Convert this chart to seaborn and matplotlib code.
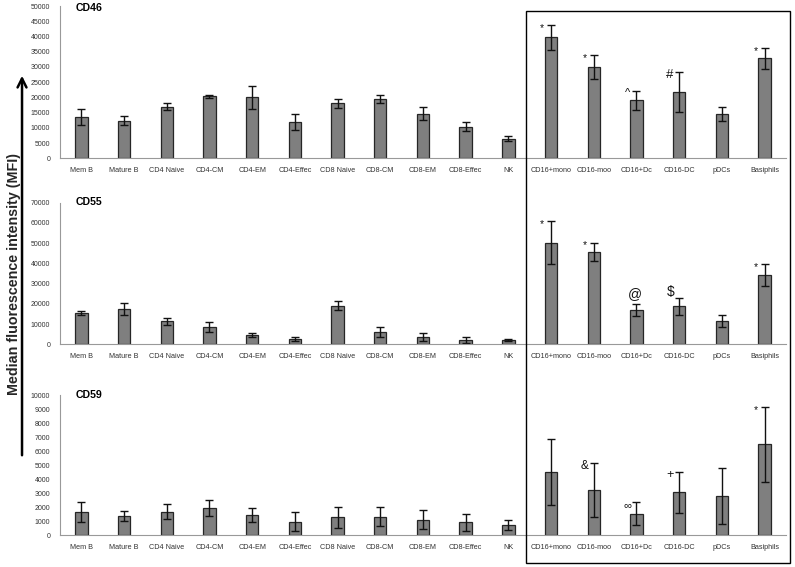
from matplotlib import pyplot as plt
from matplotlib.patches import FancyArrowPatch, Rectangle
from matplotlib.ticker import MultipleLocator
from pandas import DataFrame
import seaborn as sns


cells = [
        "Mem B", "Mature B", "CD4 Naive", "CD4-CM", "CD4-EM", "CD4-Effec",
        "CD8 Naive", "CD8-CM", "CD8-EM", "CD8-Effec", "NK",
        "CD16+mono", "CD16-moo", "CD16+Dc", "CD16-DC", "pDCs", "Basiphils",
        ]

cd46_mfi = [13600, 12300, 17000, 20300, 20000, 11800, 18000, 19500, 14700, 10400, 6500,
            39700, 30000, 19100, 21800, 14400, 32800]
cd46_err = [2700, 1450, 1300, 600, 3900, 2600, 1400, 1300, 2100, 1500, 800,
            4000, 3850, 3100, 6500, 2300, 3400]
cd46_marks = [""] * 11 + ["*", "*", "^", "#", "", "*"]

cd55_mfi = [15300, 17300, 11400, 8600, 4600, 2500, 19100, 5900, 3500, 2100, 2000,
            50200, 45600, 16800, 18800, 11500, 34300]
cd55_err = [950, 3000, 1750, 2400, 1150, 1000, 2150, 2450, 1900, 1300, 600,
            10600, 4650, 3000, 4300, 2800, 5400]
cd55_marks = [""] * 11 + ["*", "*", "@", "$", "", "*"]

cd59_mfi = [1640, 1350, 1690, 1950, 1450, 970, 1280, 1330, 1120, 930, 710,
            4510, 3210, 1540, 3060, 2800, 6480]
cd59_err = [710, 350, 540, 550, 520, 660, 740, 660, 660, 600, 350,
            2350, 1940, 800, 1460, 2020, 2670]
cd59_marks = [""] * 11 + ["", "&", "\u221e", "+", "", "*"]

# name, values, errors, marks, ymax, step, axes rect (fig fraction), title y
panels = [
        ("CD46", cd46_mfi, cd46_err, cd46_marks, 50000, 5000, [0.0755, 0.7208, 0.913, 0.2686], 0.987),
        ("CD55", cd55_mfi, cd55_err, cd55_marks, 70000, 10000, [0.0755, 0.3928, 0.913, 0.2497], 1.007),
        ("CD59", cd59_mfi, cd59_err, cd59_marks, 10000, 1000, [0.0755, 0.0559, 0.913, 0.2474], 1.0),
        ]

mark_size = {"@": 10, "$": 10, "#": 9.5, "^": 8, "&": 8.5, "\u221e": 8, "+": 9}
# most marks sit just left of the error cap, the @ sits above it
mark_shift = {"@": (-1, 7), "$": (-6, 4)}


def _panel(ax, name : str, vals : list, errs : list, marks : list,
           ymax : int, step : int, title_y : float) -> None:

    df = DataFrame({"cell" : cells, "mfi" : vals, "err" : errs})
    sns.barplot(data=df, x="cell", y="mfi", ax=ax, color="#7f7f7f",
                edgecolor="#262626", linewidth=0.9, width=0.29,
                saturation=1, errorbar=None)
    ax.errorbar(range(len(cells)), df["mfi"], yerr=df["err"], fmt="none",
                ecolor="#111111", elinewidth=1, capsize=2.6, capthick=1)

    for i, m in enumerate(marks):
        if not m:
            continue
        ax.annotate(m, xy=(i, vals[i] + errs[i]), xytext=mark_shift.get(m, (-6.5, -2)),
                    textcoords="offset points", ha="center", va="center",
                    fontsize=mark_size.get(m, 7.5), color="#111111")

    ax.set_xlim(-0.5, len(cells) - 0.5)
    ax.set_ylim(0, ymax)
    ax.yaxis.set_major_locator(MultipleLocator(step))
    ax.set_xticks(range(len(cells)))
    ax.set_xticks([i + 0.5 for i in range(len(cells) - 1)], minor=True)
    ax.tick_params(axis="x", which="major", length=0, pad=6,
                   labelsize=5.2, labelcolor="#333333")
    ax.tick_params(axis="x", which="minor", length=3.5, width=0.6,
                   color="#999999", direction="out")
    ax.tick_params(axis="y", length=3.5, width=0.6, color="#999999",
                   pad=3.5, labelsize=5, labelcolor="#333333", direction="out")

    ax.set_xlabel("")
    ax.set_ylabel("")
    sns.despine(ax=ax)
    for s in ("left", "bottom"):
        ax.spines[s].set_color("#999999")
        ax.spines[s].set_linewidth(0.8)

    ax.text(0.022, title_y, name, transform=ax.transAxes, ha="left", va="center",
            fontsize=7.6, fontweight="bold", color="black")


sns.set_theme(style="white")
plt.rcParams["font.family"] = ["Liberation Sans", "DejaVu Sans"]

fig = plt.figure(figsize=(7.95, 5.67), dpi=100)

for name, vals, errs, marks, ymax, step, rect, ty in panels:
    ax = fig.add_axes(rect)
    _panel(ax, name, vals, errs, marks, ymax, step, ty)

# shared y label with the arrow beside it
fig.text(0.0176, 0.5168, "Median fluorescence intensity (MFI)", rotation=90,
         ha="center", va="center", fontsize=10.3, fontweight="bold")
fig.add_artist(FancyArrowPatch((0.0277, 0.1922), (0.0277, 0.8713),
                               transform=fig.transFigure, arrowstyle="->",
                               mutation_scale=16, lw=1.8, color="black"))

# box around the myeloid populations
fig.add_artist(Rectangle((0.6616, 0.007), 0.332, 0.9735, transform=fig.transFigure,
                         fill=False, ec="black", lw=1))

fig.savefig("out.png", dpi=100)
plt.close(fig)
